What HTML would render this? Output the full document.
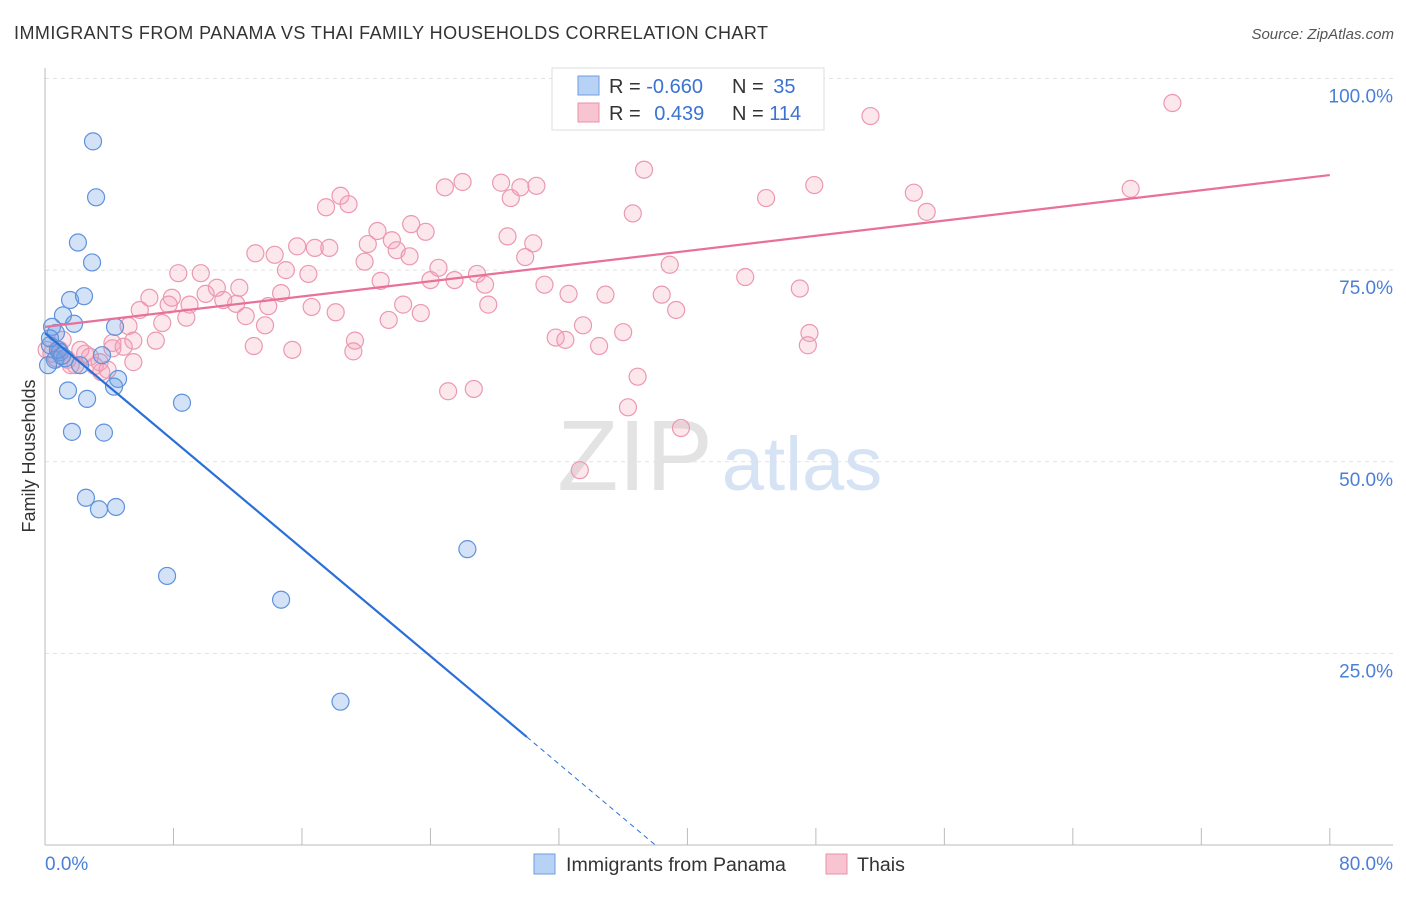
<!DOCTYPE html>
<html><head><meta charset="utf-8"><style>
body{margin:0;background:#fff;font-family:"Liberation Sans",sans-serif;}
svg text{font-family:"Liberation Sans",sans-serif;}
</style></head><body>
<svg id="c" width="1406" height="892" xmlns="http://www.w3.org/2000/svg">
<text x="14" y="39" font-size="18" fill="#333" textLength="754">IMMIGRANTS FROM PANAMA VS THAI FAMILY HOUSEHOLDS CORRELATION CHART</text>
<text x="1394" y="39" font-size="15" fill="#555" text-anchor="end" font-style="italic">Source: ZipAtlas.com</text>
<text x="35" y="456" font-size="18" fill="#333" text-anchor="middle" transform="rotate(-90 35 456)">Family Households</text>
<g><text x="635" y="490" font-size="100" fill="#e3e3e3" text-anchor="middle" font-family="Liberation Serif">ZIP</text><text x="802" y="490" font-size="76" fill="#d6e3f5" text-anchor="middle">atlas</text></g>
<g id="grid"></g><g id="axes"></g><g id="pts"></g><g id="lines"></g>
<g>
<rect x="552" y="68" width="272" height="62" fill="#fff" stroke="#ddd"/>
<rect x="578" y="76" width="21" height="19" fill="#b8d2f5" stroke="#6e9ce0"/>
<rect x="578" y="103" width="21" height="19" fill="#f8c4d2" stroke="#e890a8"/>
<text x="609" y="93" font-size="20" fill="#333">R = <tspan fill="#3b73d0">-0.660</tspan></text>
<text x="732" y="93" font-size="20" fill="#333">N = <tspan fill="#3b73d0" dx="4">35</tspan></text>
<text x="609" y="120" font-size="20" fill="#333">R = <tspan fill="#3b73d0" dx="8">0.439</tspan></text>
<text x="732" y="120" font-size="20" fill="#333">N = <tspan fill="#3b73d0">114</tspan></text>
</g>
<g>
<rect x="534" y="854" width="21" height="20" fill="#b8d2f5" stroke="#6e9ce0"/>
<text x="566" y="871" font-size="19.6" fill="#333">Immigrants from Panama</text>
<rect x="826" y="854" width="21" height="20" fill="#f8c4d2" stroke="#e890a8"/>
<text x="857" y="871" font-size="19.6" fill="#333">Thais</text>
</g>
</svg>
<script>
const blueX=[2.99,3.18,2.05,2.93,1.56,2.43,1.12,1.81,0.44,0.68,4.36,0.31,0.93,3.55,0.62,4.55,1.43,4.30,2.62,8.53,1.68,3.67,2.55,3.36,4.42,7.60,14.7,26.3,18.4,0.19,1.25,2.18,0.81,0.31,1.06];
const blueY=[91.8,84.5,78.6,76.0,71.1,71.6,69.1,68.0,67.6,66.8,67.6,65.2,64.3,63.9,63.3,60.8,59.3,59.8,58.2,57.7,53.9,53.8,45.3,43.8,44.1,35.1,32.0,38.6,18.7,62.6,63.5,62.6,64.6,66.1,63.8];
const pinkX=[33.75,51.4,70.2,37.3,26.0,24.9,28.4,29.6,30.6,29.0,47.9,54.1,67.6,18.4,17.5,18.9,36.6,44.9,54.9,22.8,23.7,20.7,28.8,30.4,21.6,20.1,15.7,16.8,17.7,13.1,14.3,21.9,22.7,29.9,19.9,38.9,15.0,24.5,26.9,16.4,8.3,9.7,43.6,20.9,24.0,25.5,27.4,31.1,10.7,12.1,6.5,7.9,10.0,14.7,32.6,34.9,38.4,47.0,11.1,11.9,7.7,9.0,22.3,27.6,13.9,16.6,18.1,39.3,5.9,12.5,8.8,7.3,23.4,21.4,13.7,5.2,33.5,36.0,47.6,6.9,4.2,5.5,31.8,32.4,13.0,34.5,47.5,19.3,19.2,15.4,4.2,4.9,2.5,5.5,3.1,3.5,3.4,1.9,1.4,0.4,0.7,36.9,25.1,26.7,36.3,39.6,33.3,2.8,0.9,1.6,3.9,0.1,2.2,1.1];
const pinkY=[94.6,95.1,96.8,88.1,86.5,85.8,86.4,85.8,86.0,84.4,86.1,85.1,85.6,84.7,83.2,83.6,82.4,84.4,82.6,81.0,80.0,80.1,79.4,78.5,78.9,78.4,78.1,77.9,77.9,77.2,77.0,77.6,76.8,76.7,76.1,75.7,75.0,75.3,74.5,74.5,74.6,74.6,74.1,73.6,73.7,73.7,73.1,73.1,72.7,72.7,71.4,71.4,71.9,72.0,71.9,71.8,71.8,72.6,71.1,70.6,70.5,70.5,70.5,70.5,70.3,70.2,69.5,69.8,69.8,69.0,68.8,68.1,69.4,68.5,67.8,67.7,67.8,66.9,66.8,65.8,65.5,65.8,66.2,65.9,65.1,65.1,65.2,65.8,64.4,64.6,64.8,65.0,64.1,63.0,62.5,61.7,63.0,62.6,63.3,64.1,63.5,61.1,59.2,59.5,57.1,54.4,48.9,63.7,64.6,62.6,62.0,64.6,64.6,65.9];
const yTicks=[25,50,75,100];
const yTickLabels=["25.0%","50.0%","75.0%","100.0%"];
const xTicks=[0,8,16,24,32,40,48,56,64,72,80];
const blueTrend=[[0,66.8],[30,14.1],[38,0]];
const pinkTrend=[[0,67.6],[80,87.4]];
const X=v=>45+v*16.06, Y=v=>845-v*7.665;
const NS="http://www.w3.org/2000/svg";
function mk(t,a,p){const e=document.createElementNS(NS,t);for(const k in a)e.setAttribute(k,a[k]);p.appendChild(e);return e;}
const grid=document.getElementById('grid'),axes=document.getElementById('axes'),pts=document.getElementById('pts'),lines=document.getElementById('lines');
yTicks.forEach((t,i)=>{
 const l=mk('line',{x1:45,x2:1393,y1:Y(t),y2:Y(t),stroke:'#e2e2e2','stroke-dasharray':'4,4'},grid);
 
 
 const tx=mk('text',{x:1393,y:Y(t)+24,'font-size':19,fill:'#4a7fd8','text-anchor':'end'},axes);
 tx.textContent=yTickLabels[i];
 
 
});
const ax=mk('line',{x1:45,x2:45,y1:68,y2:845,stroke:'#bbb'},axes);


const bx=mk('line',{x1:45,x2:1393,y1:845,y2:845,stroke:'#bbb'},axes);


xTicks.forEach(t=>{
 const l=mk('line',{x1:X(t),x2:X(t),y1:828,y2:845,stroke:'#bbb'},axes);
 
 
});
[[0,'0.0%','start',45],[80,'80.0%','end',1393]].forEach(d=>{
 const tx=mk('text',{x:d[3],y:870,'font-size':19,fill:'#4a7fd8','text-anchor':d[2]},axes);
 tx.textContent=d[1];
 
 
});
pinkX.forEach((v,i)=>{
 const c=mk('circle',{cx:X(v),cy:Y(pinkY[i]),r:8.5,fill:'rgba(245,160,185,0.25)',stroke:'#ec98b0','stroke-width':1.2},pts);
 
 
});
blueX.forEach((v,i)=>{
 const c=mk('circle',{cx:X(v),cy:Y(blueY[i]),r:8.5,fill:'rgba(110,160,230,0.3)',stroke:'#5f92dc','stroke-width':1.2},pts);
 
 
});
const pl=mk('line',{x1:X(pinkTrend[0][0]),y1:Y(pinkTrend[0][1]),x2:X(pinkTrend[1][0]),y2:Y(pinkTrend[1][1]),stroke:'#e8709a','stroke-width':2.2},lines);


const b1=mk('line',{x1:X(blueTrend[0][0]),y1:Y(blueTrend[0][1]),x2:X(blueTrend[1][0]),y2:Y(blueTrend[1][1]),stroke:'#2a6fd8','stroke-width':2.2},lines);


const b2=mk('line',{x1:X(blueTrend[1][0]),y1:Y(blueTrend[1][1]),x2:X(blueTrend[2][0]),y2:Y(blueTrend[2][1]),stroke:'#2a6fd8','stroke-width':1,'stroke-dasharray':'5,4'},lines);


</script>
</body></html>
